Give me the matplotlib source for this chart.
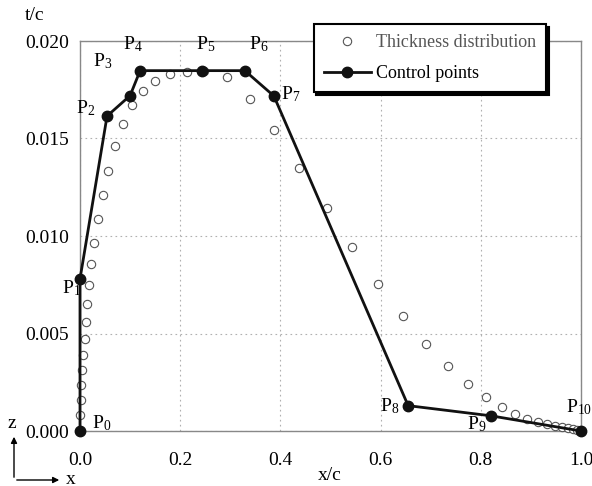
#!/usr/bin/env python

import matplotlib
matplotlib.use("Agg")
import matplotlib.pyplot as plt
from matplotlib.patches import FancyArrowPatch

plt.rcParams["font.family"] = "Liberation Serif"
plt.rcParams["mathtext.fontset"] = "custom"
plt.rcParams["mathtext.rm"] = "Liberation Serif"
plt.rcParams["mathtext.it"] = "Liberation Serif:italic"

# thickness distribution (open circles)
x_thick = [0.0, 0.0, 0.0014, 0.0026, 0.0034, 0.0066, 0.010, 0.0114, 0.0134, 0.018, 0.0214,
           0.0285, 0.0353, 0.0453, 0.0565, 0.0693, 0.0852, 0.1038, 0.1251, 0.1503, 0.1802,
           0.2142, 0.2475, 0.294, 0.3393, 0.3872, 0.4371, 0.4924, 0.5423, 0.5942, 0.6441,
           0.6906, 0.7351, 0.775, 0.8104, 0.8417, 0.8689, 0.8928, 0.9136, 0.9315, 0.948,
           0.962, 0.974, 0.984, 0.992, 0.998]
t_thick = [0.0, 0.00082, 0.00159, 0.00234, 0.00313, 0.00388, 0.00472, 0.00557, 0.0065, 0.00749,
           0.00856, 0.00966, 0.01087, 0.0121, 0.01333, 0.01463, 0.01574, 0.01672, 0.01745,
           0.01796, 0.01831, 0.01843, 0.01846, 0.01814, 0.01704, 0.01544, 0.0135, 0.01142,
           0.00945, 0.00754, 0.00588, 0.00448, 0.00333, 0.00241, 0.00173, 0.00123, 0.00089,
           0.00063, 0.00048, 0.00034, 0.00026, 0.00018, 0.00013, 0.00008, 0.00005, 0.0]

# control points P0..P10
x_ctrl = [0.0, 0.0, 0.054, 0.1, 0.12, 0.243, 0.329, 0.387, 0.655, 0.82, 1.0]
t_ctrl = [0.0, 0.0078, 0.01615, 0.0172, 0.01848, 0.01848, 0.01848, 0.01718, 0.0013, 0.00078, 0.0]

# label offsets (points) for each P_i
lab_dx = [9, -13, -22, -27, -12, -4, 3, 5, -20, -17, -11]
lab_dy = [6, -7, 6, 25, 19, 19, 19, 1, 0, -6, 17]

fig = plt.figure(figsize=(5.92, 4.86), dpi=100)
ax = fig.add_axes([80/592, 1-431/486, 501/592, 390/486])

ax.plot(x_thick, t_thick, "o", color="#555555", mfc="white", mec="#555555", ms=6, mew=0.8,
        label="Thickness distribution", zorder=3, clip_on=False)
ax.plot(x_ctrl, t_ctrl, "-o", color="#111111", lw=2.0, ms=7.5, label="Control points",
        zorder=4, clip_on=False)

for i in range(len(x_ctrl)):
    ax.annotate("P$_{%d}$" % i, (x_ctrl[i], t_ctrl[i]), xytext=(lab_dx[i], lab_dy[i]),
                textcoords="offset points", fontsize=14, va="center", ha="left")

ax.set_xlim(0, 1.0)
ax.set_ylim(0, 0.020)
ax.set_xticks([0.0, 0.2, 0.4, 0.6, 0.8, 1.0])
ax.set_yticks([0.0, 0.005, 0.010, 0.015, 0.020])
ax.set_xticklabels(["0.0", "0.2", "0.4", "0.6", "0.8", "1.0"])
ax.set_yticklabels(["0.000", "0.005", "0.010", "0.015", "0.020"])
ax.tick_params(length=0, labelsize=14)
ax.tick_params(axis="x", pad=15)
ax.tick_params(axis="y", pad=8)
ax.grid(True, color="#b0b0b0", ls=(0, (1.5, 3)), lw=0.8)
for s in ax.spines.values():
    s.set_color("#888888")
    s.set_linewidth(1.0)

fig.text(25/592, 1-15/486, "t/c", fontsize=14, va="center", ha="left")
fig.text(330/592, 1-475/486, "x/c", fontsize=14, va="center", ha="center")

# little axis arrows (display pixels, origin bottom-left)
fig.patches.append(FancyArrowPatch((14, 6), (14, 52), transform=None,
                   arrowstyle="-|>", mutation_scale=9, color="black", lw=1))
fig.patches.append(FancyArrowPatch((14, 6), (62, 6), transform=None,
                   arrowstyle="-|>", mutation_scale=9, color="black", lw=1))
fig.text(12/592, 1-423/486, "z", fontsize=14, va="center", ha="center")
fig.text(66/592, 1-479/486, "x", fontsize=14, va="center", ha="left")

leg = ax.legend(loc="upper right", bbox_to_anchor=(546/592, 1-24/486), bbox_transform=fig.transFigure,
                fancybox=False, shadow={"color": "black", "alpha": 1}, fontsize=13, framealpha=1,
                edgecolor="black", borderaxespad=0, handlelength=2.6, handletextpad=0.3,
                borderpad=0.55, labelspacing=0.8)
leg.get_frame().set_linewidth(1.5)
leg.get_texts()[0].set_color("#555555")

fig.savefig("out.png", dpi=100)
